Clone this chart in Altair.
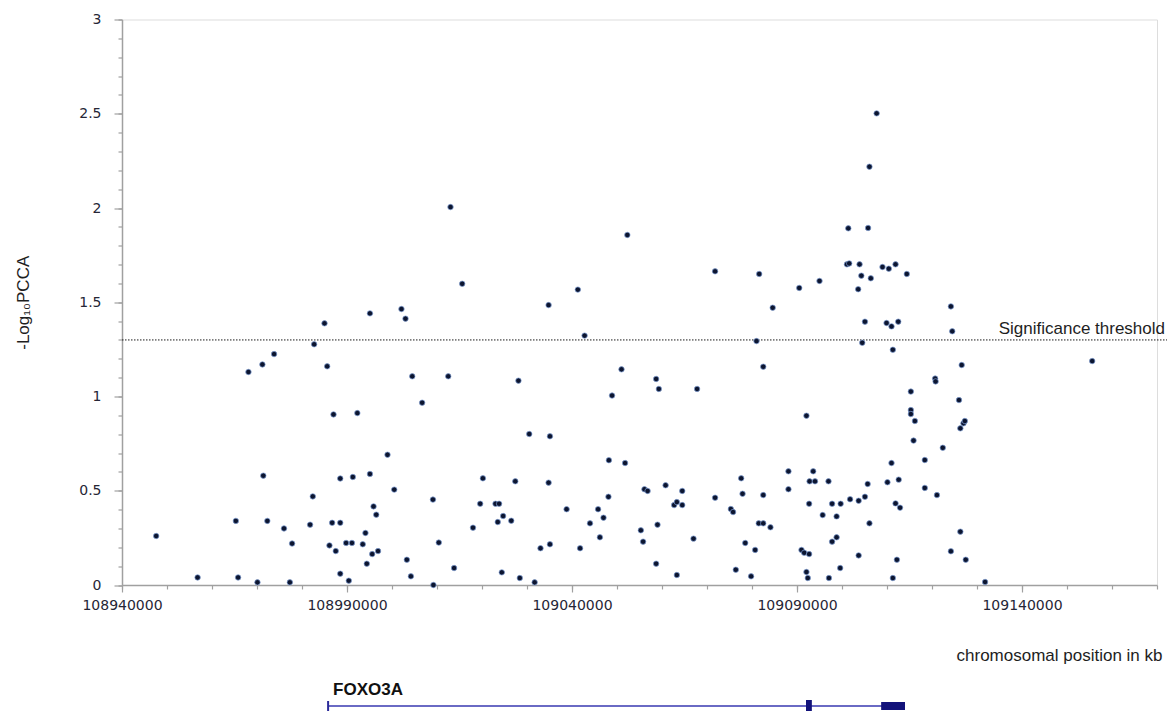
import altair as alt
import pandas as pd

# ---- data ----
positions = [
    108947600, 108956800, 108965300, 108965800, 108968100, 108970100, 108971200, 108971400,
    108972300, 108973800, 108976000, 108977300, 108977800, 108981800, 108982400, 108982700,
    108985000, 108985600, 108986100, 108986700, 108987000, 108987500, 108988500, 108988500,
    108988500, 108989800, 108990400, 108991100, 108991300, 108992300, 108993500, 108994100,
    108994400, 108995100, 108995100, 108995600, 108995900, 108996500, 108996900, 108999000,
    109000500, 109002100, 109003000, 109003300, 109004200, 109004500, 109006700, 109009100,
    109009200, 109010400, 109012500, 109013000, 109013800, 109015600, 109018000, 109019600,
    109020200, 109023000, 109023500, 109023800, 109024400, 109024700, 109026500, 109027400,
    109028100, 109028400, 109030500, 109031700, 109033000, 109034800, 109034800, 109035100,
    109035100, 109038800, 109041300, 109041800, 109042800, 109044000, 109045800, 109046200,
    109047000, 109048100, 109048200, 109048900, 109051000, 109051800, 109052300, 109055300,
    109055800, 109056100, 109056800, 109058700, 109059000, 109058700, 109059300, 109060800,
    109062700, 109063300, 109063300, 109064500, 109064500, 109067000, 109067800, 109071800,
    109071800, 109075300, 109075800, 109076400, 109077600, 109077900, 109078500, 109079800,
    109080700, 109081000, 109081600, 109081500, 109082500, 109082500, 109082500, 109084100,
    109084600, 109088100, 109088100, 109090500, 109091000, 109091600, 109092100, 109092700,
    109092100, 109092400, 109092700, 109092800, 109093600, 109094000, 109095000, 109095700,
    109097000, 109097100, 109097800, 109097800, 109098800, 109098800, 109099700, 109099600,
    109101100, 109101400, 109101600, 109101800, 109103700, 109103600, 109103700, 109103900,
    109104300, 109104500, 109105100, 109105100, 109105700, 109105800, 109106100, 109106100,
    109106400, 109107700, 109109000, 109109900, 109110100, 109110400, 109111000, 109111000,
    109111300, 109111300, 109111900, 109111900, 109112200, 109112500, 109112600, 109112900,
    109114400, 109115300, 109115300, 109115300, 109115900, 109116200, 109118400, 109118400,
    109120700, 109120800, 109121100, 109122400, 109124200, 109124500, 109124200, 109126000,
    109126300, 109126300, 109126600, 109127000, 109127300, 109127500, 109131800, 109155600,
]
neg_log10_p = [
    0.26, 0.04, 0.34, 0.04, 1.13, 0.014, 1.17, 0.58,
    0.34, 1.225, 0.30, 0.014, 0.22, 0.32, 0.47, 1.277,
    1.388, 1.16, 0.21, 0.33, 0.905, 0.18, 0.33, 0.565,
    0.06, 0.223, 0.023, 0.223, 0.573, 0.912, 0.216, 0.276,
    0.113, 1.441, 0.589, 0.164, 0.417, 0.373, 0.18, 0.691,
    0.506, 1.464, 1.413, 0.134, 0.046, 1.107, 0.967, 0.453,
    0.0, 0.225, 1.107, 2.005, 0.09, 1.598, 0.304, 0.431,
    0.566, 0.431, 0.334, 0.431, 0.067, 0.366, 0.341, 0.55,
    1.084, 0.037, 0.801, 0.014, 0.195, 1.485, 0.543, 0.789,
    0.216, 0.402, 1.567, 0.195, 1.323, 0.327, 0.402, 0.253,
    0.357, 0.468, 0.662, 1.005, 1.144, 0.647, 1.857, 0.29,
    0.23, 0.508, 0.499, 0.113, 0.32, 1.093, 1.04, 0.529,
    0.424, 0.44, 0.053, 0.499, 0.424, 0.246, 1.04, 1.664,
    0.463, 0.403, 0.387, 0.081, 0.566, 0.484, 0.223, 0.046,
    0.186, 1.294, 1.65, 0.327, 0.327, 0.477, 1.158, 0.306,
    1.471, 0.603, 0.508, 1.576, 0.186, 0.171, 0.898, 0.164,
    0.069, 0.037, 0.431, 0.55, 0.603, 0.55, 1.613, 0.371,
    0.55, 0.037, 0.431, 0.23, 0.364, 0.253, 0.431, 0.09,
    1.701, 1.892, 1.706, 0.455, 0.447, 1.569, 0.157, 1.701,
    1.641, 1.285, 1.397, 0.468, 0.536, 1.894, 2.219, 0.327,
    1.627, 2.502, 1.687, 1.39, 0.545, 1.678, 1.372, 0.647,
    1.248, 0.037, 1.701, 0.433, 0.134, 1.397, 0.559, 0.41,
    1.65, 1.026, 0.928, 0.907, 0.766, 0.87, 0.663, 0.515,
    1.095, 1.08, 0.477, 0.728, 1.478, 1.346, 0.179, 0.981,
    0.831, 0.283, 1.167, 0.858, 0.87, 0.134, 0.016, 1.188,
]

threshold_value = [1.3]
threshold_label = ["Significance threshold"]

x_domain = [108940000, 109170000]
y_domain = [0, 3]
x_major_ticks = [108940000, 108990000, 109040000, 109090000, 109140000]
x_minor_ticks = list(range(108940000, 109170001, 10000))
y_major_ticks = [0, 0.5, 1, 1.5, 2, 2.5, 3]
y_minor_ticks = [round(i * 0.1, 1) for i in range(31)]

gene_name = ["FOXO3A"]
gene_start = [108985800]
gene_end = [109114000]
exon1_start, exon1_end = [109092000], [109093300]
exon2_start, exon2_end = [109108700], [109114000]

# ---- layout ----
W, H = 1035, 565.5

pts = pd.DataFrame({"pos": positions, "val": neg_log10_p})
thr = pd.DataFrame({"t": threshold_value, "label": threshold_label})
gene = pd.DataFrame({"name": gene_name, "start": gene_start, "end": gene_end})
ex1 = pd.DataFrame({"s": exon1_start, "e": exon1_end})
ex2 = pd.DataFrame({"s": exon2_start, "e": exon2_end})

xs = alt.Scale(domain=x_domain, nice=False, zero=False)
ys = alt.Scale(domain=y_domain, nice=False)

axis_color = "#a0a0a0"
label_font = "DejaVu Sans"
text_font = "Liberation Sans"
label_color = "#262636"

x_axis_major = alt.Axis(
    orient="bottom",
    values=x_major_ticks, format="d", grid=False, tickSize=7, tickColor=axis_color,
    tickWidth=1.2, domainColor=axis_color, domainWidth=1.5, labelFont=label_font,
    labelFontSize=14, labelColor=label_color, labelPadding=6, labelOverlap=False,
    labelFlush=False,
    title="chromosomal position in kb", titleFont=text_font, titleFontSize=17,
    titleFontWeight="normal", titleColor="#1e1e1e", titleX=W + 5, titleY=75,
    titleAlign="right", titleAnchor="end", titleBaseline="alphabetic",
)
x_axis_minor = alt.Axis(
    orient="bottom",
    values=x_minor_ticks, grid=False, labels=False, domain=False, tickSize=4,
    tickColor=axis_color, tickWidth=1.2, title=None,
)
y_axis_major = alt.Axis(
    orient="left",
    values=y_major_ticks, labelExpr="'' + datum.value", grid=False, tickSize=8,
    tickColor=axis_color, tickWidth=1.2, domainColor=axis_color, domainWidth=1.5,
    labelFont=label_font, labelFontSize=14, labelColor=label_color, labelPadding=13,
    labelOverlap=False, labelFlush=False,
    title="-Log\u2081\u2080PCCA", titleFont=text_font, titleFontSize=17,
    titleFontWeight="normal", titleColor="#1e1e1e", titlePadding=46,
)
y_axis_minor = alt.Axis(
    orient="left",
    values=y_minor_ticks, grid=False, labels=False, domain=False, tickSize=4,
    tickColor=axis_color, tickWidth=1.2, title=None,
)

points = alt.Chart(pts).mark_circle(
    size=30, color="#0c1530", opacity=1, stroke="#7f9fd6", strokeWidth=0.7
).encode(
    x=alt.X("pos:Q", scale=xs, axis=x_axis_major),
    y=alt.Y("val:Q", scale=ys, axis=y_axis_major),
)

minor = alt.Chart(pts).mark_circle(opacity=0).encode(
    x=alt.X("pos:Q", scale=xs, axis=x_axis_minor),
    y=alt.Y("val:Q", scale=ys, axis=y_axis_minor),
)

thr_rule = alt.Chart(thr).mark_rule(
    color="#1a1a1a", strokeWidth=1, strokeDash=[1.5, 1.5]
).encode(
    y=alt.Y("t:Q", scale=ys, axis=None),
    x=alt.value(0), x2=alt.value(W + 10),
)

thr_text = alt.Chart(thr).mark_text(
    align="right", baseline="alphabetic", dy=-6, font=text_font, fontSize=17,
    color="#1e1e1e",
).encode(
    y=alt.Y("t:Q", scale=ys, axis=None),
    x=alt.value(W + 8),
    text="label:N",
)

gene_line = alt.Chart(gene).mark_rule(color="#6a6ac4", strokeWidth=2).encode(
    x=alt.X("start:Q", scale=xs, axis=None), x2="end:Q",
    y=alt.value(686.5),
)
gene_tick = alt.Chart(gene).mark_rule(color="#2b2b9a", strokeWidth=2).encode(
    x=alt.X("start:Q", scale=xs, axis=None),
    y=alt.value(681.5), y2=alt.value(691.5),
)
gene_label = alt.Chart(gene).mark_text(
    align="left", baseline="alphabetic", dx=5, font=text_font,
    fontSize=17, fontWeight="bold", color="#111111",
).encode(
    x=alt.X("start:Q", scale=xs, axis=None),
    y=alt.value(675),
    text="name:N",
)
exon1 = alt.Chart(ex1).mark_rect(color="#12127a").encode(
    x=alt.X("s:Q", scale=xs, axis=None), x2="e:Q",
    y=alt.value(680.5), y2=alt.value(692.5),
)
exon2 = alt.Chart(ex2).mark_rect(color="#12127a").encode(
    x=alt.X("s:Q", scale=xs, axis=None), x2="e:Q",
    y=alt.value(682.5), y2=alt.value(690.5),
)

chart = alt.layer(
    minor, thr_rule, thr_text, gene_line, gene_tick, exon1, exon2, gene_label, points
).resolve_axis(
    x="independent", y="independent"
).properties(
    width=W, height=H,
    autosize=alt.AutoSizeParams(type="none"),
    padding={"left": 114, "top": 11.5, "right": 10, "bottom": 126},
).configure_view(
    stroke=None
).configure(
    background="white"
)

chart.save("out.html", embed_options={"renderer": "svg", "actions": False})
